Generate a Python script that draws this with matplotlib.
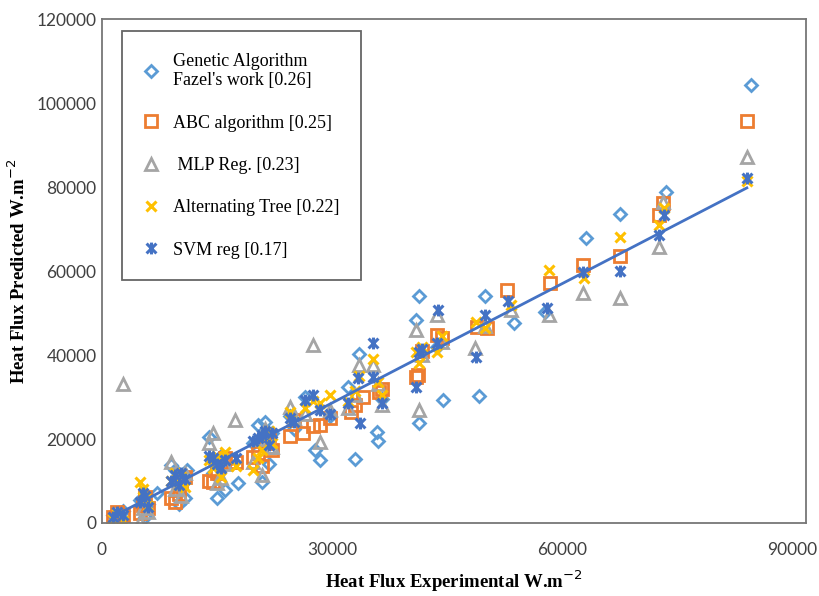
import matplotlib.pyplot as plt
from matplotlib.path import Path

# Genetic Algorithm (Fazel's work)
ga_x = [1500, 2000, 2700, 5000, 5300, 5600, 6000, 7200, 9000, 9500, 10000, 10300, 10800, 11100,
        14000, 14500, 15000, 15500, 16000, 17700, 19700, 20300, 20900, 21200, 21800, 22200,
        24500, 25000, 26500, 27800, 28400, 29700, 32100, 33000, 33500, 35900, 36000, 36500,
        41000, 41300, 41300, 43700, 44500, 49200, 50000, 53700, 57800, 63100, 67500, 73500, 84700]
ga_y = [2000, 1200, 2800, 5500, 3800, 1500, 4500, 7100, 13800, 12500, 4500, 11000, 6000, 12600,
        20500, 12000, 6000, 16000, 7900, 9500, 19000, 23300, 9800, 24000, 14000, 21500,
        25500, 22500, 30000, 17400, 15000, 25500, 32400, 15200, 40200, 21700, 19500, 29500,
        48300, 54000, 23800, 42000, 29300, 30200, 54000, 47600, 50200, 67900, 73600, 78800, 104300]

# ABC algorithm
abc_x = [1500, 2000, 2700, 5000, 5300, 5600, 6000, 9000, 9500, 10000, 10300, 10800, 14000, 14500,
         15000, 15500, 16000, 17500, 19700, 20300, 20900, 21200, 21800, 22200, 24500, 25000,
         26200, 27500, 28400, 29700, 32500, 33000, 34000, 36100, 36500, 41000, 41200, 41800,
         43700, 44300, 48900, 50200, 52800, 58400, 62700, 67500, 72700, 73200, 84100]
abc_y = [1500, 2500, 1800, 2400, 4200, 6200, 3500, 6000, 5000, 7000, 9500, 11000, 10000, 9800,
         12000, 14500, 15500, 14500, 15700, 16700, 13500, 19000, 21000, 17500, 20800, 24500,
         21400, 23000, 23300, 25000, 26400, 28000, 30000, 31200, 32000, 34800, 35200, 41000,
         44800, 44000, 46700, 46400, 55500, 57100, 61400, 63600, 73300, 76200, 95700]

# MLP Reg.
mlp_x = [1500, 2000, 2700, 5000, 5300, 5600, 6000, 9000, 9500, 10000, 10300, 10800, 14000, 14500,
         15000, 15500, 16000, 17300, 19700, 20300, 20900, 21200, 21800, 22200, 24500, 25000,
         26500, 27500, 28400, 29700, 32100, 33000, 33500, 35300, 36000, 36500, 41000, 41300,
         41800, 43700, 44300, 48600, 50000, 53300, 58300, 62700, 67500, 72600, 73200, 84100]
mlp_y = [500, 1500, 33000, 300, 3500, 6000, 2500, 14500, 8000, 10000, 6500, 12000, 19000, 21400,
         9500, 10700, 14000, 24500, 14500, 20000, 11500, 22500, 18000, 18100, 27600, 25000,
         26000, 42400, 19300, 27000, 27400, 30500, 37600, 37600, 33000, 28000, 46000, 26900,
         40000, 49500, 43000, 41700, 47000, 50700, 49500, 54800, 53600, 65700, 76400, 87100]

# Alternating Tree
alt_x = [1500, 2000, 2700, 5000, 5300, 5600, 6000, 9000, 9500, 10000, 10300, 10800, 14000, 14500,
         15000, 15500, 16000, 17500, 19700, 20300, 20900, 21200, 21800, 22200, 24500, 25000,
         26500, 27500, 28400, 29700, 32100, 33000, 33500, 35300, 36000, 36500, 41000, 41300,
         41800, 43700, 44300, 48800, 50000, 53300, 58300, 62900, 67500, 72600, 73300, 84100]
alt_y = [900, 2200, 500, 9800, 8000, 6000, 4000, 10000, 12000, 9000, 11000, 8500, 15000, 13000,
         16000, 11000, 17000, 13500, 12600, 15500, 17500, 20500, 22000, 19000, 26500, 24000,
         27500, 29000, 28500, 30500, 29000, 31500, 35000, 39000, 33500, 30500, 40700, 38000,
         42000, 40700, 44500, 47900, 46500, 52000, 60200, 58300, 68100, 71000, 75000, 81500]

# SVM reg
svm_x = [1500, 2000, 2700, 5000, 5300, 5600, 6000, 9000, 9500, 10000, 10300, 10800, 14000, 14500,
         15000, 15500, 16000, 17500, 19700, 20300, 20900, 21200, 21800, 22200, 24500, 25000,
         26500, 27500, 28400, 29700, 32100, 33600, 33400, 35300, 35300, 36500, 41000, 41300,
         41800, 43800, 43700, 48800, 50000, 53000, 58100, 62700, 67500, 72600, 73300, 84100]
svm_y = [1500, 2600, 2000, 5000, 7200, 6500, 3800, 10000, 11500, 9000, 12000, 10500, 16000, 15500,
         14000, 13000, 15000, 15500, 19500, 20200, 21000, 22000, 18500, 21500, 25000, 24000,
         29300, 30500, 27000, 26000, 28500, 23800, 34500, 42900, 34800, 28600, 32400, 40700,
         41500, 50700, 42900, 39500, 49500, 52800, 51200, 59800, 60000, 68600, 73300, 82100]

# linear trendline
trend_x = [1400, 84100]
trend_y = [1500, 79800]

labels = ["Genetic Algorithm\nFazel's work [0.26]", "ABC algorithm [0.25]", " MLP Reg. [0.23]",
          "Alternating Tree [0.22]", "SVM reg [0.17]"]

# Excel-like star marker: X plus vertical bar
star = Path([(-1, -1), (1, 1), (-1, 1), (1, -1), (0, -1.2), (0, 1.2)],
            [Path.MOVETO, Path.LINETO, Path.MOVETO, Path.LINETO, Path.MOVETO, Path.LINETO])

fig = plt.figure(figsize=(8.19, 5.96), dpi=100)
ax = fig.add_axes([0.1245, 0.1225, 0.8595, 0.8455])

ax.plot(ga_x, ga_y, linestyle='none', marker='D', markersize=6.5, mfc='none', mec='#5B9BD5',
        mew=2, label=labels[0])
ax.plot(abc_x, abc_y, linestyle='none', marker='s', markersize=8.5, mfc='none', mec='#ED7D31',
        mew=2, label=labels[1])
ax.plot(mlp_x, mlp_y, linestyle='none', marker='^', markersize=8.5, mfc='none', mec='#A5A5A5',
        mew=2, label=labels[2])
ax.plot(alt_x, alt_y, linestyle='none', marker='x', markersize=7.5, mec='#FFC000',
        mew=2.2, label=labels[3])
ax.plot(svm_x, svm_y, linestyle='none', marker=star, markersize=8.5, mec='#4472C4',
        mew=2.2, label=labels[4])
ax.plot(trend_x, trend_y, color='#4472C4', linewidth=2)

ax.set_xlim(0, 91800)
ax.set_ylim(0, 120000)
ax.set_xticks([0, 30000, 60000, 90000])
ax.set_yticks(range(0, 120001, 20000))
ax.tick_params(length=0, labelsize=12.5)
ax.tick_params(axis='x', pad=14)
ax.tick_params(axis='y', pad=4)
for t in ax.get_xticklabels() + ax.get_yticklabels():
    t.set_fontfamily('Lato')
    t.set_color('#404040')
for s in ax.spines.values():
    s.set_color('#767676')
    s.set_linewidth(1.3)

ax.set_xlabel('Heat Flux Experimental W.m$^{-2}$', fontfamily='Liberation Serif',
              fontweight='bold', fontsize=13.5, labelpad=7)
ax.set_ylabel('Heat Flux Predicted W.m$^{-2}$', fontfamily='Liberation Serif',
              fontweight='bold', fontsize=13.5, labelpad=5)

leg = ax.legend(loc='upper left', bbox_to_anchor=(0.029, 0.976), frameon=True, fancybox=False,
                prop={'family': 'Liberation Serif', 'size': 13}, labelspacing=1.4,
                borderpad=1.2, handletextpad=0.8, handlelength=0.8, borderaxespad=0)
leg.get_frame().set_edgecolor('#404040')
leg.get_frame().set_linewidth(1.3)

plt.savefig('out.png', dpi=100)
